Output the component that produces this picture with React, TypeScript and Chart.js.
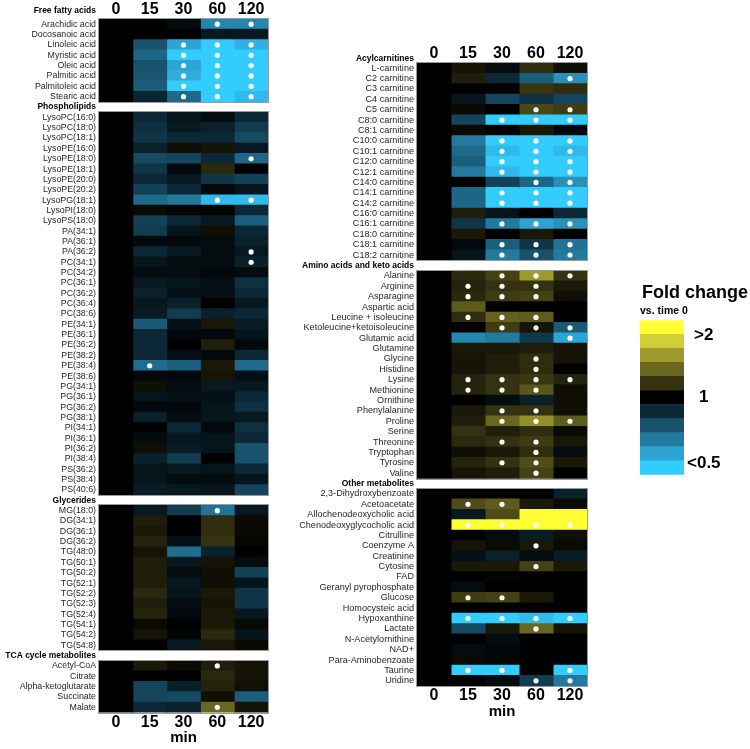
import React, { useEffect, useRef } from 'react';
import { Chart, registerables } from 'chart.js';
Chart.register(...registerables);

const FONT = "'Liberation Sans', Arial, Helvetica, sans-serif";
const timeLabels = ['0', '15', '30', '60', '120'];

// Colour-scale steps: -5 = <0.5 fold, 0 = 1 (no change), +5 = >2 fold
const scaleColors = [
  [51, 204, 255], [45, 165, 212], [35, 122, 158], [24, 82, 108], [12, 40, 54],
  [0, 0, 0],
  [52, 50, 16], [105, 102, 32], [158, 154, 46], [210, 206, 56], [255, 255, 51],
];
const legendTickValues = [9.9, 5.5, 0.8];
const legendTickLabels = ['>2', '1', '<0.5'];

// ---------- Left panel ----------
const ffaTitle = 'Free fatty acids';
const ffaNames = ['Arachidic acid', 'Docosanoic acid', 'Linoleic acid', 'Myristic acid', 'Oleic acid', 'Palmitic acid', 'Palmitoleic acid', 'Stearic acid'];
const ffaLevels = [
  [0, 0, -0.3, -3.3, -3.3],
  [0, 0, 0, -0.6, -0.6],
  [0, -2, -4, -5, -4.3],
  [0, -2.5, -5, -5, -5],
  [0, -2, -4, -5, -5],
  [0, -2.1, -4.2, -5, -5],
  [0, -2.3, -5, -5, -5],
  [0, -0.9, -2.6, -5, -4.5],
];
const ffaSig = [[3, 4], [], [2, 3, 4], [2, 3, 4], [2, 3, 4], [2, 3, 4], [2, 3, 4], [2, 3, 4]];

const plTitle = 'Phospholipids';
const plNames = ['LysoPC(16:0)', 'LysoPC(18:0)', 'LysoPC(18:1)', 'LysoPE(16:0)', 'LysoPE(18:0)', 'LysoPE(18:1)', 'LysoPE(20:0)', 'LysoPE(20:2)', 'LysoPG(18:1)', 'LysoPI(18:0)', 'LysoPS(18:0)', 'PA(34:1)', 'PA(36:1)', 'PA(36:2)', 'PC(34:1)', 'PC(34:2)', 'PC(36:1)', 'PC(36:2)', 'PC(36:4)', 'PC(38:6)', 'PE(34:1)', 'PE(36:1)', 'PE(36:2)', 'PE(38:2)', 'PE(38:4)', 'PE(38:6)', 'PG(34:1)', 'PG(36:1)', 'PG(36:2)', 'PG(38:1)', 'PI(34:1)', 'PI(36:1)', 'PI(36:2)', 'PI(38:4)', 'PS(36:2)', 'PS(38:4)', 'PS(40:6)'];
const plLevels = [
  [0, -1, -0.5, -0.3, -1],
  [0, -1.2, -0.6, -0.8, -1.5],
  [0, -1.3, -1, -1, -1.8],
  [0, -0.8, 0.3, 0.4, -0.6],
  [0, -1.8, -1.7, -1, -2.5],
  [0, -1.3, -0.2, 0.8, 0],
  [0, -1, -0.6, -1.3, -1.6],
  [0, -1.6, -1, -0.2, -0.5],
  [0, -2.6, -2.9, -4.5, -4.5],
  [0, 0.2, 0.1, 0.1, -1],
  [0, -1.6, -1, -0.6, -2.3],
  [0, -1.5, -0.5, 0.3, -1],
  [0, -0.2, -0.2, -0.3, -0.8],
  [0, -1, -0.6, -0.3, -0.6],
  [0, -0.5, -0.3, -0.3, -0.8],
  [0, -0.3, -0.3, -0.2, -0.3],
  [0, -0.6, -0.5, -0.4, -1.2],
  [0, -0.8, -0.4, -0.4, -1],
  [0, -0.6, -0.8, 0, -0.6],
  [0, -0.7, -1.5, -0.8, -1],
  [0, -2.2, -0.4, 0.5, -0.7],
  [0, -1, -0.2, -0.2, -0.5],
  [0, -1, 0, 0.6, -0.2],
  [0, -1, -0.4, -0.2, -1],
  [0, -2.7, -2.3, 0.5, -2.6],
  [0, -0.2, -0.2, 0.4, -0.4],
  [0, 0.3, -0.3, -0.6, -0.6],
  [0, -0.5, -0.4, -0.4, -1],
  [0, -0.2, -0.2, -0.5, -1.2],
  [0, -0.8, -0.3, -0.5, -0.6],
  [0, 0, -1, -0.2, -1.2],
  [0, -0.3, -0.6, -0.5, -1],
  [0, 0.3, -0.7, -0.5, -2],
  [0, -0.8, -1.5, 0, -2],
  [0, -0.5, -0.6, -0.5, -1],
  [0, -0.5, -0.3, -0.3, -0.5],
  [0, -0.7, -0.6, -0.5, -1.7],
];
const plSig = [[], [], [], [], [4], [], [], [], [3, 4], [], [], [], [], [4], [4], [], [], [], [], [], [], [], [], [], [1], [], [], [], [], [], [], [], [], [], [], [], []];

const glyTitle = 'Glycerides';
const glyNames = ['MG(18:0)', 'DG(34:1)', 'DG(36:1)', 'DG(36:2)', 'TG(48:0)', 'TG(50:1)', 'TG(50:2)', 'TG(52:1)', 'TG(52:2)', 'TG(52:3)', 'TG(52:4)', 'TG(54:1)', 'TG(54:2)', 'TG(54:8)'];
const glyLevels = [
  [0, -0.6, -1.5, -2.8, -0.6],
  [0, 0.6, 0, 0.9, 0.2],
  [0, 0.5, 0, 0.9, 0.2],
  [0, 0.7, -0.4, 1, 0.1],
  [0, 0.4, -2.7, -0.8, 0],
  [0, 0.6, -0.6, 0.4, -0.3],
  [0, 0.6, -0.3, 0.3, -1.6],
  [0, 0.6, -0.6, 0.3, -0.5],
  [0, 0.8, -0.5, 0.5, -1.3],
  [0, 0.6, -0.3, 0.4, -1.3],
  [0, 0.7, -0.2, 0.5, -0.6],
  [0, 0.2, 0, 0.5, 0.2],
  [0, 0.4, -0.1, 0.8, -0.5],
  [0, 0, -0.6, 0.5, 0.2],
];
const glySig = [[3], [], [], [], [], [], [], [], [], [], [], [], [], []];

const tcaTitle = 'TCA cycle metabolites';
const tcaNames = ['Acetyl-CoA', 'Citrate', 'Alpha-ketoglutarate', 'Succinate', 'Malate'];
const tcaLevels = [
  [0, 0.5, 0.2, 0.6, 0.4],
  [0, 0, 0, 0.8, 0.4],
  [0, -1.7, -0.8, 0.7, 0.3],
  [0, -1.7, -1.8, 0.3, -2.3],
  [0, -1, -0.8, 2, 0.4],
];
const tcaSig = [[3], [], [], [], [3]];

// ---------- Right panel ----------
const acTitle = 'Acylcarnitines';
const acNames = ['L-carnitine', 'C2 carnitine', 'C3 carnitine', 'C4 carnitine', 'C5 carnitine', 'C8:0 carnitine', 'C8:1 carnitine', 'C10:0 carnitine', 'C10:1 carnitine', 'C12:0 carnitine', 'C12:1 carnitine', 'C14:0 carnitine', 'C14:1 carnitine', 'C14:2 carnitine', 'C16:0 carnitine', 'C16:1 carnitine', 'C18:0 carnitine', 'C18:1 carnitine', 'C18:2 carnitine'];
const acLevels = [
  [0, 0.4, -0.3, 0.9, 0.3],
  [0, 0.6, -1, -2.3, -3.5],
  [0, 0, 0, 1.1, 0.9],
  [0, -0.5, -1.7, -1.2, -1.7],
  [0, 0.2, 0, 1.4, 1.2],
  [0, -1.7, -5, -5, -5],
  [0, 0.2, 0, 0.5, -0.2],
  [0, -3, -5, -5, -5],
  [0, -2.6, -4.5, -5, -4.5],
  [0, -2.3, -5, -5, -5],
  [0, -3, -4.5, -5, -5],
  [0, 0, -1.6, -2.5, -3.5],
  [0, -2.5, -5, -5, -5],
  [0, -2.5, -5, -5, -5],
  [0, 0.6, -0.5, 0, -1],
  [0, -1.3, -3, -4, -3.5],
  [0, 0.5, 0, 0.5, 0],
  [0, -0.2, -2.3, -1.3, -2.8],
  [0, -0.5, -3, -2, -3],
];
const acSig = [[], [4], [], [], [3, 4], [2, 3, 4], [], [2, 3, 4], [2, 3, 4], [2, 3, 4], [2, 3, 4], [3, 4], [2, 3, 4], [2, 3, 4], [], [2, 3, 4], [], [2, 3, 4], [2, 3, 4]];

const aaTitle = 'Amino acids and keto acids';
const aaNames = ['Alanine', 'Arginine', 'Asparagine', 'Aspartic acid', 'Leucine + isoleucine', 'Ketoleucine+ketoisoleucine', 'Glutamic acid', 'Glutamine', 'Glycine', 'Histidine', 'Lysine', 'Methionine', 'Ornithine', 'Phenylalanine', 'Proline', 'Serine', 'Threonine', 'Tryptophan', 'Tyrosine', 'Valine'];
const aaLevels = [
  [0, 0.8, 1.3, 3, 1],
  [0, 0.7, 1, 1, 0.5],
  [0, 0.8, 1.2, 1.3, 0.3],
  [0, 1.8, 0, 0, 0],
  [0, 0.9, 1.9, 1.8, 0],
  [0, 0, 1.2, 0.4, -2.2],
  [0, -3.3, -3, -1.4, -4],
  [0, 0.5, 0.5, 0.6, 0.4],
  [0, 0.4, 0.6, 0.9, 0.4],
  [0, 0.4, 0.6, 0.9, 0],
  [0, 0.7, 1, 1.1, 0.7],
  [0, 0.7, 1, 1.7, 0.3],
  [0, 0, -0.3, -0.8, 0.3],
  [0, 0.5, 1, 1, 0.3],
  [0, 0.6, 2, 2.8, 1.8],
  [0, 1, 0.6, 0.9, 0.2],
  [0, 0.8, 1, 1.2, 0.5],
  [0, 0.3, 0.5, 0.9, -0.3],
  [0, 0.7, 1, 1.5, 0.5],
  [0, 0.4, 0.6, 1.3, 0],
];
const aaSig = [[2, 3, 4], [1, 2, 3], [1, 2, 3], [], [1, 2, 3], [2, 3, 4], [4], [], [3], [3], [1, 2, 3, 4], [1, 2, 3], [], [2, 3], [2, 3, 4], [], [2, 3], [3], [2, 3], [3]];

const omTitle = 'Other metabolites';
const omNames = ['2,3-Dihydroxybenzoate', 'Acetoacetate', 'Allochenodeoxycholic acid', 'Chenodeoxyglycocholic acid', 'Citrulline', 'Coenzyme A', 'Creatinine', 'Cytosine', 'FAD', 'Geranyl pyrophosphate', 'Glucose', 'Homocysteic acid', 'Hypoxanthine', 'Lactate', 'N-Acetylornithine', 'NAD+', 'Para-Aminobenzoate', 'Taurine', 'Uridine'];
const omLevels = [
  [0, 0, 0, 0, -0.8],
  [0, 1.5, 1.8, 0.5, 0.2],
  [0, -0.6, 1.5, 5, 5],
  [0, 5, 5, 5, 5],
  [0, 0, -0.3, -0.7, 0.3],
  [0, 0.4, 0.2, 0.5, 0.2],
  [0, -0.4, -0.8, -0.3, -0.7],
  [0, 0.5, 0.5, 1.3, 0.5],
  [0, 0, -0.1, 0, 0],
  [0, -0.3, 0, 0, 0],
  [0, 1.2, 1.3, 0.5, 0],
  [0, 0, 0, 0, 0],
  [0, -5, -5, -4.6, -5],
  [0, -1.8, 0.5, 2, 0.4],
  [0, 0, -0.3, 0, 0],
  [0, -0.3, -0.2, 0, 0],
  [0, 0.2, 0.1, 0, 0],
  [0, -5, -5, 0, -5],
  [0, 0, -0.3, -1.5, -3],
];
const omSig = [[], [1, 2], [], [1, 2, 3, 4], [], [3], [], [3], [], [], [1, 2], [], [1, 2, 3, 4], [3], [], [], [], [1, 2, 4], [3, 4]];

type Section = { title: string; names: string[]; levels: number[][]; sig: number[][] };

const leftSections: Section[] = [
  { title: ffaTitle, names: ffaNames, levels: ffaLevels, sig: ffaSig },
  { title: plTitle, names: plNames, levels: plLevels, sig: plSig },
  { title: glyTitle, names: glyNames, levels: glyLevels, sig: glySig },
  { title: tcaTitle, names: tcaNames, levels: tcaLevels, sig: tcaSig },
];
const rightSections: Section[] = [
  { title: acTitle, names: acNames, levels: acLevels, sig: acSig },
  { title: aaTitle, names: aaNames, levels: aaLevels, sig: aaSig },
  { title: omTitle, names: omNames, levels: omLevels, sig: omSig },
];

function levelColor(v: number): string {
  const x = Math.max(-5, Math.min(5, v)) + 5;
  const i = Math.min(9, Math.floor(x));
  const t = x - i;
  const a = scaleColors[i];
  const b = scaleColors[i + 1];
  const c = a.map((av, k) => Math.round(av + (b[k] - av) * t));
  return `rgb(${c[0]},${c[1]},${c[2]})`;
}

type PanelProps = {
  sections: Section[];
  left: number; top: number; width: number; height: number;
  yAxisWidth: number; padRight: number; topH: number; bottomH: number; titlePadBottom: number;
  labelSize: number;
};

function HeatPanel(p: PanelProps) {
  const ref = useRef<HTMLCanvasElement>(null);
  useEffect(() => {
    const labels: string[] = [];
    const headers = new Set<string>();
    const rowLevels: (number[] | null)[] = [];
    const rowSig: number[][] = [];
    const blocks: [number, number][] = [];
    p.sections.forEach((s, si) => {
      if (si > 0) {
        labels.push(s.title);
        headers.add(s.title);
        rowLevels.push(null);
        rowSig.push([]);
      }
      const start = labels.length;
      s.names.forEach((n, i) => {
        labels.push(n);
        rowLevels.push(s.levels[i]);
        rowSig.push(s.sig[i]);
      });
      blocks.push([start, labels.length - 1]);
    });

    const barSets: any[] = timeLabels.map((_, c) => ({
      type: 'bar',
      data: rowLevels.map((r) => (r ? [c, c + 1] : null)),
      backgroundColor: rowLevels.map((r) => (r ? levelColor(r[c]) : 'rgba(0,0,0,0)')),
      borderWidth: 0,
      inflateAmount: 0.5,
      grouped: false,
      barPercentage: 1,
      categoryPercentage: 1,
      xAxisID: 'x',
      yAxisID: 'y',
      order: 2,
    }));
    const dots: { x: number; y: string }[] = [];
    rowSig.forEach((cols, r) => cols.forEach((c) => dots.push({ x: c + 0.5, y: labels[r] })));
    const dotSet: any = {
      type: 'scatter',
      data: dots,
      pointRadius: 2.6,
      pointHoverRadius: 2.6,
      pointBackgroundColor: '#ffffff',
      pointBorderWidth: 0,
      xAxisID: 'x',
      yAxisID: 'y',
      order: 1,
    };

    const blockPlugin = {
      id: 'blocks',
      afterDatasetsDraw(chart: any) {
        const { ctx, chartArea } = chart;
        const rowH = (chartArea.bottom - chartArea.top) / labels.length;
        ctx.save();
        ctx.strokeStyle = '#9a9a9a';
        ctx.lineWidth = 1;
        blocks.forEach(([a, b]) => {
          const y0 = chartArea.top + a * rowH;
          const y1 = chartArea.top + (b + 1) * rowH;
          ctx.strokeRect(Math.round(chartArea.left) - 0.5, Math.round(y0) - 0.5, Math.round(chartArea.right - chartArea.left) + 1, Math.round(y1 - y0) + 1);
        });
        ctx.restore();
      },
    };

    const xCommon = (pos: 'top' | 'bottom', h: number, withTitle: boolean) => ({
      type: 'linear',
      position: pos,
      min: 0,
      max: 5,
      grid: { display: false, drawTicks: false },
      border: { display: false },
      afterBuildTicks: (s: any) => {
        s.ticks = timeLabels.map((_, i) => ({ value: i + 0.5 }));
      },
      afterFit: (s: any) => {
        s.height = h;
      },
      ticks: {
        autoSkip: false,
        maxRotation: 0,
        padding: 0,
        color: '#000',
        font: { family: FONT, size: 16, weight: 'bold' },
        callback: (_v: any, i: number) => timeLabels[i],
      },
      title: withTitle
        ? { display: true, text: 'min', color: '#000', font: { family: FONT, size: 15, weight: 'bold' }, padding: { top: 0, bottom: p.titlePadBottom } }
        : { display: false },
    });

    const chart = new Chart(ref.current as HTMLCanvasElement, {
      type: 'bar',
      data: { labels, datasets: [...barSets, dotSet] },
      options: {
        indexAxis: 'y',
        responsive: false,
        animation: false,
        events: [],
        layout: { padding: { left: 0, right: p.padRight, top: 0, bottom: 0 } },
        plugins: { legend: { display: false }, tooltip: { enabled: false } },
        scales: {
          x: xCommon('top', p.topH, false),
          x2: xCommon('bottom', p.bottomH, true),
          y: {
            type: 'category',
            position: 'left',
            offset: true,
            grid: { display: false, drawTicks: false },
            border: { display: false },
            afterFit: (s: any) => {
              s.width = p.yAxisWidth;
            },
            ticks: {
              autoSkip: false,
              padding: 3,
              color: (ctx: any) => (headers.has(labels[ctx.index]) ? '#000' : '#262626'),
              font: (ctx: any) =>
                headers.has(labels[ctx.index])
                  ? { family: FONT, size: 8.5, weight: 'bold' }
                  : { family: FONT, size: p.labelSize, weight: 'normal' },
            },
          },
        },
      } as any,
      plugins: [blockPlugin],
    } as any);
    return () => chart.destroy();
  }, []);
  return (
    <canvas
      ref={ref}
      width={p.width}
      height={p.height}
      style={{ position: 'absolute', left: p.left, top: p.top, width: p.width, height: p.height }}
    />
  );
}

function LegendBar() {
  const ref = useRef<HTMLCanvasElement>(null);
  useEffect(() => {
    const datasets = scaleColors.map((c) => ({
      data: [1],
      backgroundColor: `rgb(${c[0]},${c[1]},${c[2]})`,
      borderWidth: 0,
      barPercentage: 1,
      categoryPercentage: 1,
      stack: 's',
    }));
    const chart = new Chart(ref.current as HTMLCanvasElement, {
      type: 'bar',
      data: { labels: [''], datasets },
      options: {
        responsive: false,
        animation: false,
        events: [],
        layout: { padding: { left: 0, right: 0, top: 0, bottom: 0 } },
        plugins: {
          legend: { display: false },
          tooltip: { enabled: false },
          title: { display: true, text: 'Fold change', color: '#000', font: { family: FONT, size: 18, weight: 'bold' }, padding: { top: 4, bottom: 0 } },
          subtitle: { display: true, align: 'start', text: 'vs. time 0', color: '#000', font: { family: FONT, size: 10.5, weight: 'bold' }, padding: { top: 1, bottom: 3 } },
        },
        scales: {
          x: { display: false, stacked: true },
          y: {
            stacked: true,
            position: 'right',
            min: 0,
            max: 11,
            grid: { display: false, drawTicks: false },
            border: { display: false },
            afterBuildTicks: (s: any) => {
              s.ticks = legendTickValues.map((v) => ({ value: v }));
            },
            afterFit: (s: any) => {
              s.width = 66;
            },
            ticks: {
              padding: 3,
              crossAlign: 'center',
              color: '#000',
              font: { family: FONT, size: 17, weight: 'bold' },
              callback: (_v: any, i: number) => legendTickLabels[i],
            },
          },
        },
      } as any,
    } as any);
    return () => chart.destroy();
  }, []);
  return <canvas ref={ref} width={110} height={210} style={{ position: 'absolute', left: 640, top: 278, width: 110, height: 210 }} />;
}

const headerStyle: React.CSSProperties = {
  position: 'absolute',
  fontFamily: FONT,
  fontSize: 8.5,
  fontWeight: 'bold',
  lineHeight: '11px',
  textAlign: 'right',
  color: '#000',
  whiteSpace: 'nowrap',
};

export default function App() {
  return (
    <div style={{ position: 'absolute', left: 0, top: 0, width: 750, height: 749, background: '#fff', overflow: 'hidden' }}>
      <HeatPanel sections={leftSections} left={0} top={0} width={272} height={749} yAxisWidth={99} padRight={4} topH={19} bottomH={36.5} titlePadBottom={2} labelSize={8.8} />
      <HeatPanel sections={rightSections} left={280} top={40} width={312} height={690} yAxisWidth={137} padRight={5} topH={23} bottomH={44} titlePadBottom={9} labelSize={9.1} />
      <div style={{ ...headerStyle, left: 0, width: 96, top: 5 }}>{ffaTitle}</div>
      <div style={{ ...headerStyle, left: 280, width: 134, top: 52.5 }}>{acTitle}</div>
      <LegendBar />
    </div>
  );
}
